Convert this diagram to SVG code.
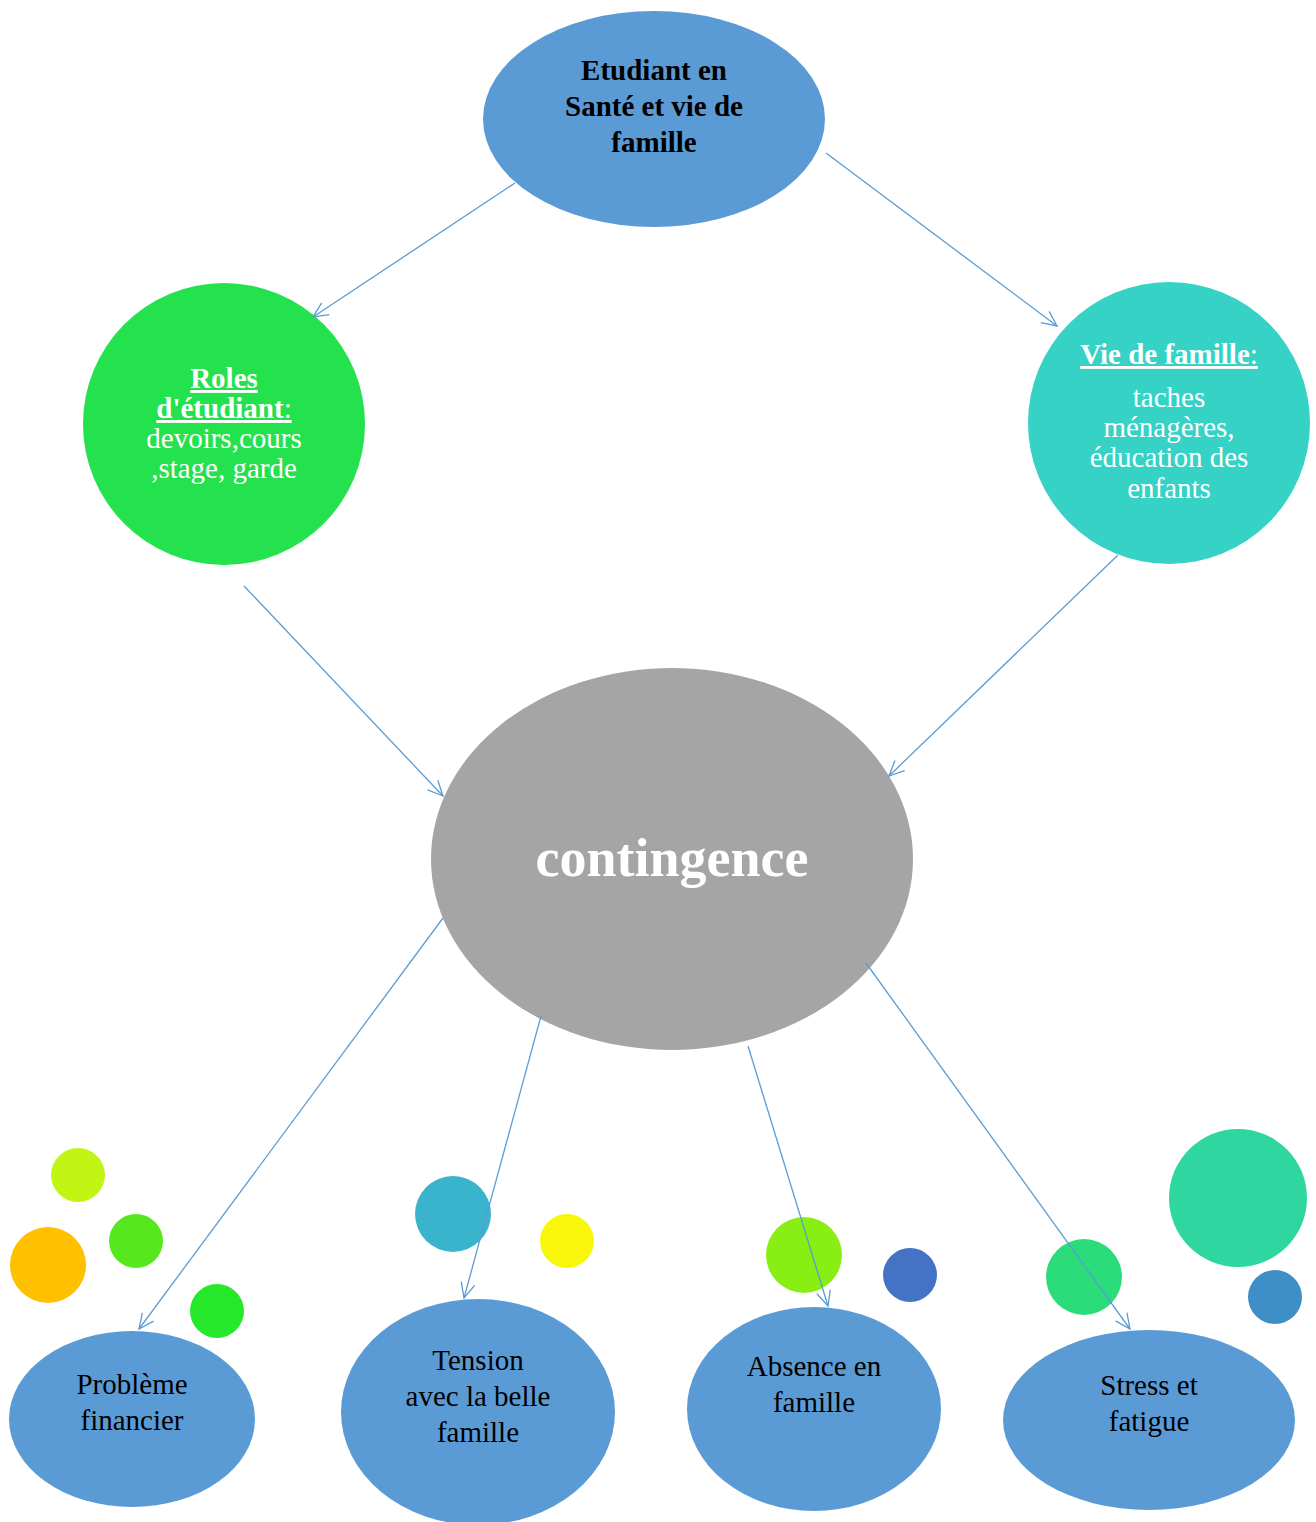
<svg xmlns="http://www.w3.org/2000/svg" width="1316" height="1522" viewBox="0 0 1316 1522">
<style>
.t{font-family:"Liberation Serif","Times New Roman",serif;font-size:29px;text-anchor:middle}
.w{fill:#ffffff}
.k{fill:#000000}
.b{font-weight:bold}
.u{text-decoration:underline}
.c{stroke:#5B9BD5;stroke-width:1.3;fill:none}
.blue{fill:#5B9BD5}
</style>
<defs>
<marker id="a" markerWidth="20" markerHeight="20" refX="16" refY="8" orient="auto" markerUnits="userSpaceOnUse">
<path d="M1,1 L16,8 L1,15" fill="none" stroke="#5B9BD5" stroke-width="1.3"/>
</marker>
</defs>
<rect width="1316" height="1522" fill="#ffffff"/>
<g id="node-top">
<ellipse cx="654" cy="119" rx="171" ry="108" class="blue"/>
<text class="t b k" x="654" y="80">Etudiant en</text>
<text class="t b k" x="654" y="116">Santé et vie de</text>
<text class="t b k" x="654" y="152">famille</text>
</g>
<g id="node-roles">
<circle cx="224" cy="424" r="141" fill="#23E24D"/>
<text class="t w" x="224" y="388"><tspan class="b u">Roles</tspan></text>
<text class="t w" x="224" y="418"><tspan class="b u">d'étudiant</tspan><tspan class="u">:</tspan></text>
<text class="t w" x="224" y="448">devoirs,cours</text>
<text class="t w" x="224" y="478">,stage, garde</text>
</g>
<g id="node-famille">
<circle cx="1169" cy="423" r="141" fill="#35D2C5"/>
<text class="t w" x="1169" y="364"><tspan class="b u">Vie de famille</tspan><tspan class="u">:</tspan></text>
<text class="t w" x="1169" y="407">taches</text>
<text class="t w" x="1169" y="437">ménagères,</text>
<text class="t w" x="1169" y="467">éducation des</text>
<text class="t w" x="1169" y="498">enfants</text>
</g>
<g id="node-contingence">
<ellipse cx="672" cy="859" rx="241" ry="191" fill="#A5A5A5"/>
<text class="t w b" x="672" y="876" style="font-size:54px">contingence</text>
</g>
<g id="decor">
<circle cx="78" cy="1175" r="27" fill="#C0F514"/>
<circle cx="48" cy="1265" r="38" fill="#FFC000"/>
<circle cx="136" cy="1241" r="27" fill="#55E81E"/>
<circle cx="217" cy="1311" r="27" fill="#26E82A"/>
<circle cx="453" cy="1214" r="38" fill="#3AB3CC"/>
<circle cx="567" cy="1241" r="27" fill="#F8F70A"/>
<circle cx="804" cy="1255" r="38" fill="#88EE14"/>
<circle cx="910" cy="1275" r="27" fill="#4472C4"/>
<circle cx="1084" cy="1277" r="38" fill="#2ADC7A"/>
<circle cx="1238" cy="1198" r="69" fill="#30D6A0"/>
<circle cx="1275" cy="1297" r="27" fill="#3E8EC8"/>
</g>
<g id="node-probleme">
<ellipse cx="132" cy="1419" rx="123" ry="88" class="blue"/>
<text class="t k" x="132" y="1394">Problème</text>
<text class="t k" x="132" y="1430">financier</text>
</g>
<g id="node-tension">
<ellipse cx="478" cy="1412" rx="137" ry="113" class="blue"/>
<text class="t k" x="478" y="1370">Tension</text>
<text class="t k" x="478" y="1406">avec la belle</text>
<text class="t k" x="478" y="1442">famille</text>
</g>
<g id="node-absence">
<ellipse cx="814" cy="1409" rx="127" ry="102" class="blue"/>
<text class="t k" x="814" y="1376">Absence en</text>
<text class="t k" x="814" y="1412">famille</text>
</g>
<g id="node-stress">
<ellipse cx="1149" cy="1420" rx="146" ry="90" class="blue"/>
<text class="t k" x="1149" y="1395">Stress et</text>
<text class="t k" x="1149" y="1431">fatigue</text>
</g>
<g id="connectors">
<line class="c" x1="515" y1="183" x2="313" y2="317" marker-end="url(#a)"/>
<line class="c" x1="826" y1="153" x2="1057" y2="326" marker-end="url(#a)"/>
<line class="c" x1="244" y1="586" x2="443" y2="796" marker-end="url(#a)"/>
<line class="c" x1="1118" y1="555" x2="889" y2="776" marker-end="url(#a)"/>
<line class="c" x1="443" y1="918" x2="139" y2="1329" marker-end="url(#a)"/>
<line class="c" x1="541" y1="1016" x2="464" y2="1298" marker-end="url(#a)"/>
<line class="c" x1="748" y1="1046" x2="828" y2="1306" marker-end="url(#a)"/>
<line class="c" x1="866" y1="963" x2="1130" y2="1329" marker-end="url(#a)"/>
</g>
</svg>
